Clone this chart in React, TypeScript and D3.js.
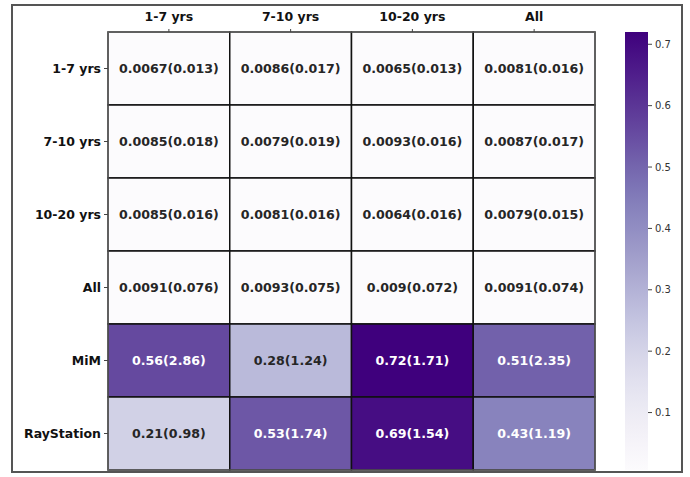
import React from "react";
import * as d3 from "d3";

const rowLabels = ["1-7 yrs", "7-10 yrs", "10-20 yrs", "All", "MiM", "RayStation"];
const colLabels = ["1-7 yrs", "7-10 yrs", "10-20 yrs", "All"];
const means = [
  [0.0067, 0.0086, 0.0065, 0.0081],
  [0.0085, 0.0079, 0.0093, 0.0087],
  [0.0085, 0.0081, 0.0064, 0.0079],
  [0.0091, 0.0093, 0.009, 0.0091],
  [0.56, 0.28, 0.72, 0.51],
  [0.21, 0.53, 0.69, 0.43],
];
const sds = [
  [0.013, 0.017, 0.013, 0.016],
  [0.018, 0.019, 0.016, 0.017],
  [0.016, 0.016, 0.016, 0.015],
  [0.076, 0.075, 0.072, 0.074],
  [2.86, 1.24, 1.71, 2.35],
  [0.98, 1.74, 1.54, 1.19],
];
const cbarTicks = [0.1, 0.2, 0.3, 0.4, 0.5, 0.6, 0.7];

const W = 690, H = 477;
const gx0 = 108, gx1 = 595, gy0 = 32, gy1 = 470;
const cbx0 = 625, cbx1 = 648;

export default function App() {
  const flat = means.flat();
  const vmin = d3.min(flat) as number;
  const vmax = d3.max(flat) as number;
  const x = d3.scaleBand<string>().domain(colLabels).range([gx0, gx1]);
  const y = d3.scaleBand<string>().domain(rowLabels).range([gy0, gy1]);
  const color = d3.scaleSequential(d3.interpolatePurples).domain([vmin, vmax]);
  const cy = d3.scaleLinear().domain([vmin, vmax]).range([gy1, gy0]);
  const font = "'DejaVu Sans', sans-serif";
  const stops = d3.range(0, 1.0001, 0.05);

  const textColor = (v: number) => {
    const c = d3.rgb(color(v));
    const lum = (0.2126 * c.r + 0.7152 * c.g + 0.0722 * c.b) / 255;
    return lum < 0.62 ? "#ffffff" : "#262626";
  };

  return (
    <svg width={W} height={H} style={{ position: "absolute", left: 0, top: 0, background: "#fff" }} fontFamily={font}>
      <defs>
        <linearGradient id="cb" x1="0" y1="1" x2="0" y2="0">
          {stops.map((t) => (
            <stop key={t} offset={t} stopColor={d3.interpolatePurples(t)} />
          ))}
        </linearGradient>
      </defs>
      <rect x={0} y={0} width={W} height={H} fill="#fff" />
      <rect x={12} y={5} width={670} height={467} fill="none" stroke="#555" strokeWidth={2} />

      {means.map((row, i) =>
        row.map((v, j) => (
          <g key={`${i}-${j}`}>
            <rect
              x={x(colLabels[j])}
              y={y(rowLabels[i])}
              width={x.bandwidth()}
              height={y.bandwidth()}
              fill={color(v)}
              stroke="#111"
              strokeWidth={1.5}
            />
            <text
              x={(x(colLabels[j]) as number) + x.bandwidth() / 2}
              y={(y(rowLabels[i]) as number) + y.bandwidth() / 2 + 4.5}
              textAnchor="middle"
              fontSize={12.6}
              fontWeight="bold"
              fill={textColor(v)}
            >
              {`${String(v)}(${String(sds[i][j])})`}
            </text>
          </g>
        ))
      )}
      <rect x={gx0} y={gy0} width={gx1 - gx0} height={gy1 - gy0} fill="none" stroke="#777" strokeWidth={1} />

      {colLabels.map((c) => {
        const cx = (x(c) as number) + x.bandwidth() / 2;
        return (
          <g key={c}>
            <line x1={cx} x2={cx} y1={gy0 - 3} y2={gy0} stroke="#444" strokeWidth={1} />
            <text x={cx} y={21} textAnchor="middle" fontSize={12.5} fontWeight="bold" fill="#111">
              {c}
            </text>
          </g>
        );
      })}
      {rowLabels.map((r) => {
        const ry = (y(r) as number) + y.bandwidth() / 2;
        return (
          <g key={r}>
            <line x1={gx0 - 4} x2={gx0} y1={ry} y2={ry} stroke="#444" strokeWidth={1} />
            <text x={gx0 - 7} y={ry + 4.5} textAnchor="end" fontSize={12.5} fontWeight="bold" fill="#111">
              {r}
            </text>
          </g>
        );
      })}

      <rect x={cbx0} y={gy0} width={cbx1 - cbx0} height={gy1 - gy0} fill="url(#cb)" />
      {cbarTicks.map((t) => (
        <g key={t}>
          <line x1={cbx1} x2={cbx1 + 4} y1={cy(t)} y2={cy(t)} stroke="#444" strokeWidth={1} />
          <text x={cbx1 + 7} y={cy(t) + 3.5} fontSize={10} fill="#333">
            {String(t)}
          </text>
        </g>
      ))}
    </svg>
  );
}
